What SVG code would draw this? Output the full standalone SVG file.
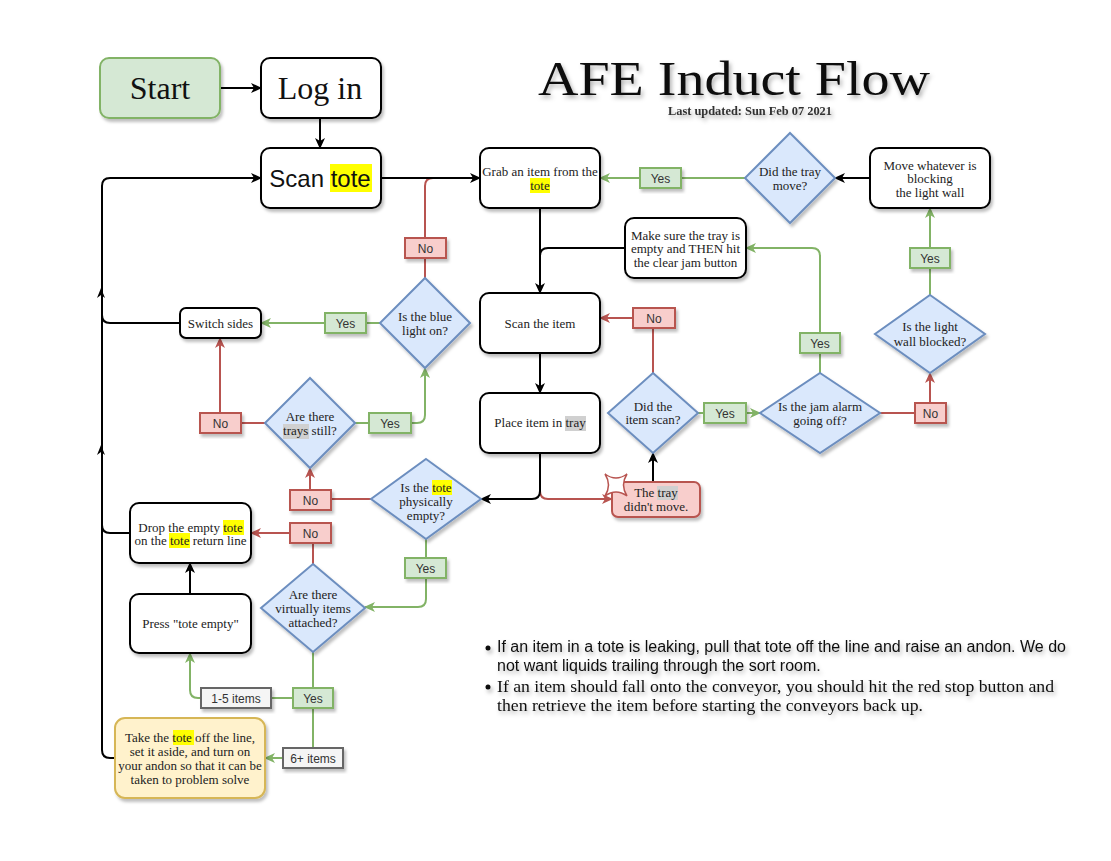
<svg xmlns="http://www.w3.org/2000/svg" width="1111" height="861" viewBox="0 0 1111 861">
<defs>
<style>
.box{fill:#fff;stroke:#000;stroke-width:2}
.dia{fill:#dae8fc;stroke:#6c8ebf;stroke-width:2}
.gl{fill:#d5e8d4;stroke:#82b366;stroke-width:2}
.rl{fill:#f8cecc;stroke:#b85450;stroke-width:2}
.gy{fill:#f5f5f5;stroke:#666;stroke-width:2}
.yl{fill:#fff2cc;stroke:#d6b656;stroke-width:2}
.n{font-family:"Liberation Serif",serif;font-size:13px;fill:#222;text-anchor:middle}
.l{font-family:"Liberation Sans",sans-serif;font-size:12px;fill:#333;text-anchor:middle}
.eb{fill:none;stroke:#000;stroke-width:2}
.eg{fill:none;stroke:#82b366;stroke-width:2}
.er{fill:none;stroke:#b85450;stroke-width:2}
.hy{fill:#ffff00}
.hg{fill:#d0d0d0}
</style>
<filter id="sh" x="-20%" y="-20%" width="150%" height="150%"><feDropShadow dx="2" dy="3" stdDeviation="1.5" flood-color="#000" flood-opacity="0.25"/></filter>
<filter id="ts" x="-10%" y="-30%" width="130%" height="180%"><feDropShadow dx="2" dy="3" stdDeviation="2" flood-color="#000" flood-opacity="0.3"/></filter>
<marker id="ab" markerWidth="11" markerHeight="10" refX="10" refY="5" orient="auto" markerUnits="userSpaceOnUse"><path d="M0,0 L11,5 L0,10 L3,5 Z" fill="#000"/></marker>
<marker id="ag" markerWidth="11" markerHeight="10" refX="10" refY="5" orient="auto" markerUnits="userSpaceOnUse"><path d="M0,0 L11,5 L0,10 L3,5 Z" fill="#82b366"/></marker>
<marker id="ar" markerWidth="11" markerHeight="10" refX="10" refY="5" orient="auto" markerUnits="userSpaceOnUse"><path d="M0,0 L11,5 L0,10 L3,5 Z" fill="#b85450"/></marker>
</defs>
<rect width="1111" height="861" fill="#fff"/>

<g id="title" filter="url(#ts)">
<text x="734" y="95" font-family="Liberation Serif,serif" font-size="48" text-anchor="middle" textLength="392" lengthAdjust="spacingAndGlyphs" fill="#111">AFE Induct Flow</text>
<text x="750" y="115" font-family="Liberation Serif,serif" font-size="11.5" font-weight="bold" text-anchor="middle" textLength="164" lengthAdjust="spacingAndGlyphs" fill="#333">Last updated: Sun Feb 07 2021</text>
</g>

<g id="connectors">
<path class="eb" d="M220,88 L261,88" marker-end="url(#ab)"/>
<path class="eb" d="M320,118 L320,148" marker-end="url(#ab)"/>
<path class="er" d="M425,279 L425,186 Q425,178 433,178"/>
<path class="eb" d="M381,178 L480,178" marker-end="url(#ab)"/>
<path class="eb" d="M540,208 L540,293" marker-end="url(#ab)"/>
<path class="eb" d="M625,248 L548,248 Q540,248 540,256"/>
<path class="eb" d="M540,353 L540,393" marker-end="url(#ab)"/>
<path class="er" d="M540,491 Q540,499 548,499 L612,499" marker-end="url(#ar)"/>
<path class="eb" d="M540,453 L540,491 Q540,499 532,499 L481,499" marker-end="url(#ab)"/>
<path class="eb" d="M870,178 L835,178" marker-end="url(#ab)"/>
<path class="eb" d="M653,482 L653,453" marker-end="url(#ab)"/>
<path class="eb" d="M190,594 L190,563" marker-end="url(#ab)"/>
<path class="eb" d="M115,758 L110,758 Q102,758 102,750 L102,186 Q102,178 110,178 L261,178" marker-end="url(#ab)"/>
<path class="eb" d="M180,323 L110,323 Q102,323 102,315"/>
<path class="eb" d="M130,533 L110,533 Q102,533 102,525"/>
<path d="M97,298 L101,288 L105,298 L101,295 Z" fill="#000"/>
<path d="M97,455 L101,445 L105,455 L101,452 Z" fill="#000"/>

<path class="eg" d="M745,178 L600,178" marker-end="url(#ag)"/>
<path class="eg" d="M698,413 L760,413" marker-end="url(#ag)"/>
<path class="eg" d="M820,373 L820,256 Q820,248 812,248 L746,248" marker-end="url(#ag)"/>
<path class="eg" d="M930,295 L930,208" marker-end="url(#ag)"/>
<path class="eg" d="M380,323 L261,323" marker-end="url(#ag)"/>
<path class="eg" d="M355,423 L417,423 Q425,423 425,415 L425,368" marker-end="url(#ag)"/>
<path class="eg" d="M426,539 L426,599 Q426,607 418,607 L365,607" marker-end="url(#ag)"/>
<path class="eg" d="M313,652 L313,748"/>
<path class="eg" d="M283,758 L265,758" marker-end="url(#ag)"/>
<path class="eg" d="M293,698 L271,698"/>
<path class="eg" d="M201,698 L198,698 Q190,698 190,690 L190,653" marker-end="url(#ag)"/>

<path class="er" d="M266,423 L220,423 L220,338" marker-end="url(#ar)"/>
<path class="er" d="M653,373 L653,318 L600,318" marker-end="url(#ar)"/>
<path class="er" d="M880,413 L930,413 L930,373" marker-end="url(#ar)"/>
<path class="er" d="M371,499 L310,499 L310,468" marker-end="url(#ar)"/>
<path class="er" d="M313,564 L313,533 L251,533" marker-end="url(#ar)"/>

<g id="lbl-yes-traymove"><rect class="gl" x="640" y="168" width="41" height="20" filter="url(#sh)"/><text class="l" x="660.5" y="182.5">Yes</text></g>
<g id="lbl-no-blue"><rect class="rl" x="405" y="238" width="41" height="20" filter="url(#sh)"/><text class="l" x="425.5" y="252.5">No</text></g>
<g id="lbl-yes-blue"><rect class="gl" x="325" y="313" width="41" height="20" filter="url(#sh)"/><text class="l" x="345.5" y="327.5">Yes</text></g>
<g id="lbl-yes-trays"><rect class="gl" x="369" y="413" width="42" height="20" filter="url(#sh)"/><text class="l" x="390" y="427.5">Yes</text></g>
<g id="lbl-no-trays"><rect class="rl" x="200" y="413" width="41" height="20" filter="url(#sh)"/><text class="l" x="220.5" y="427.5">No</text></g>
<g id="lbl-no-scan"><rect class="rl" x="633" y="308" width="42" height="20" filter="url(#sh)"/><text class="l" x="654" y="322.5">No</text></g>
<g id="lbl-yes-scan"><rect class="gl" x="704" y="403" width="42" height="20" filter="url(#sh)"/><text class="l" x="725" y="417.5">Yes</text></g>
<g id="lbl-yes-jam"><rect class="gl" x="800" y="333" width="40" height="20" filter="url(#sh)"/><text class="l" x="820" y="347.5">Yes</text></g>
<g id="lbl-no-jam"><rect class="rl" x="915" y="403" width="31" height="20" filter="url(#sh)"/><text class="l" x="930.5" y="417.5">No</text></g>
<g id="lbl-yes-wall"><rect class="gl" x="910" y="248" width="40" height="20" filter="url(#sh)"/><text class="l" x="930" y="262.5">Yes</text></g>
<g id="lbl-no-empty"><rect class="rl" x="290" y="490" width="41" height="20" filter="url(#sh)"/><text class="l" x="310.5" y="504.5">No</text></g>
<g id="lbl-no-virtual"><rect class="rl" x="290" y="523" width="41" height="20" filter="url(#sh)"/><text class="l" x="310.5" y="537.5">No</text></g>
<g id="lbl-yes-empty"><rect class="gl" x="405" y="558" width="41" height="20" filter="url(#sh)"/><text class="l" x="425.5" y="572.5">Yes</text></g>
<g id="lbl-yes-virtual"><rect class="gl" x="293" y="688" width="40" height="20" filter="url(#sh)"/><text class="l" x="313" y="702.5">Yes</text></g>
<g id="lbl-1-5"><rect class="gy" x="201" y="688" width="70" height="20" filter="url(#sh)"/><text class="l" x="236" y="702.5">1-5 items</text></g>
<g id="lbl-6plus"><rect class="gy" x="283" y="748" width="60" height="20" filter="url(#sh)"/><text class="l" x="313" y="762.5">6+ items</text></g>
</g>

<g id="start"><rect class="gl" x="100" y="58" width="120" height="60" rx="9" filter="url(#sh)"/><text x="160" y="99" font-family="Liberation Serif,serif" font-size="32" text-anchor="middle" fill="#111">Start</text></g>
<g id="login"><rect class="box" x="261" y="58" width="120" height="60" rx="9" filter="url(#sh)"/><text x="320" y="99" font-family="Liberation Serif,serif" font-size="32" text-anchor="middle" fill="#111">Log in</text></g>
<g id="scan-tote"><rect class="box" x="261" y="148" width="120" height="60" rx="9" filter="url(#sh)"/><rect class="hy" x="330" y="164" width="42" height="28"/><text x="320" y="187" font-family="Liberation Sans,sans-serif" font-size="24" text-anchor="middle" fill="#111">Scan tote</text></g>
<g id="grab"><rect class="box" x="480" y="148" width="120" height="60" rx="9" filter="url(#sh)"/><rect class="hy" x="530" y="178" width="20" height="15"/><text class="n" x="540" y="176">Grab an item from the</text><text class="n" x="540" y="189.5">tote</text></g>
<g id="tray-move"><path class="dia" d="M790,133 L835,178 L790,223 L745,178 Z" filter="url(#sh)"/><text class="n" x="790" y="175.5">Did the tray</text><text class="n" x="790" y="189.5">move?</text></g>
<g id="move-whatever"><rect class="box" x="870" y="148" width="120" height="60" rx="9" filter="url(#sh)"/><text class="n" x="930" y="169.5">Move whatever is</text><text class="n" x="930" y="183">blocking</text><text class="n" x="930" y="196.5">the light wall</text></g>
<g id="make-sure"><rect class="box" x="625" y="218" width="121" height="60" rx="9" filter="url(#sh)"/><text class="n" x="685.5" y="239.5">Make sure the tray is</text><text class="n" x="685.5" y="253">empty and THEN hit</text><text class="n" x="685.5" y="266.5">the clear jam button</text></g>
<g id="scan-item"><rect class="box" x="480" y="293" width="120" height="60" rx="9" filter="url(#sh)"/><text class="n" x="540" y="327.5">Scan the item</text></g>
<g id="place-item"><rect class="box" x="480" y="393" width="120" height="60" rx="9" filter="url(#sh)"/><rect class="hg" x="565" y="416" width="21" height="15"/><text class="n" x="540" y="427">Place item in tray</text></g>
<g id="item-scan"><path class="dia" d="M653,373 L698,413 L653,453 L608,413 Z" filter="url(#sh)"/><text class="n" x="653" y="410.5">Did the</text><text class="n" x="653" y="424">item scan?</text></g>
<g id="jam-alarm"><path class="dia" d="M820,373 L880,413 L820,453 L760,413 Z" filter="url(#sh)"/><text class="n" x="820" y="410.5">Is the jam alarm</text><text class="n" x="820" y="424.5">going off?</text></g>
<g id="light-wall"><path class="dia" d="M930,295 L985,334 L930,373 L875,334 Z" filter="url(#sh)"/><text class="n" x="930" y="331">Is the light</text><text class="n" x="930" y="345.5">wall blocked?</text></g>
<g id="blue-light"><path class="dia" d="M425,278 L470,323 L425,368 L380,323 Z" filter="url(#sh)"/><text class="n" x="425" y="321">Is the blue</text><text class="n" x="425" y="334.5">light on?</text></g>
<g id="switch-sides"><rect class="box" x="180" y="308" width="81" height="30" rx="6" filter="url(#sh)"/><text class="n" x="220.5" y="327.5">Switch sides</text></g>
<g id="trays-still"><path class="dia" d="M310,378 L355,423 L310,468 L265,423 Z" filter="url(#sh)"/><rect class="hg" x="283" y="424" width="26" height="15"/><text class="n" x="310" y="420.5">Are there</text><text class="n" x="310" y="434.5">trays still?</text></g>
<g id="tote-empty"><path class="dia" d="M426,459 L481,499 L426,539 L371,499 Z" filter="url(#sh)"/><rect class="hy" x="432" y="480" width="20" height="15"/><text class="n" x="426" y="491.5">Is the tote</text><text class="n" x="426" y="505.5">physically</text><text class="n" x="426" y="519.5">empty?</text></g>
<g id="tray-didnt-move"><rect class="rl" x="612" y="482" width="88" height="35" rx="6" filter="url(#sh)"/><rect class="hg" x="657" y="486" width="21" height="14"/><text class="n" x="656" y="496.5">The tray</text><text class="n" x="656" y="510.5">didn't move.</text><path d="M605,474 Q616,482 627,474 Q620,485 627,496 Q616,488 605,496 Q612,485 605,474 Z" fill="#fff" stroke="#b85450" stroke-width="1.5"/></g>
<g id="drop-tote"><rect class="box" x="130" y="503" width="121" height="60" rx="9" filter="url(#sh)"/><rect class="hy" x="223" y="520" width="21" height="15"/><rect class="hy" x="169" y="533" width="21" height="15"/><text class="n" x="190.5" y="531.5">Drop the empty tote</text><text class="n" x="190.5" y="545">on the tote return line</text></g>
<g id="virtual-items"><path class="dia" d="M313,564 L365,608 L313,652 L261,608 Z" filter="url(#sh)"/><text class="n" x="313" y="598.5">Are there</text><text class="n" x="313" y="612.5">virtually items</text><text class="n" x="313" y="626.5">attached?</text></g>
<g id="press-empty"><rect class="box" x="130" y="594" width="121" height="59" rx="9" filter="url(#sh)"/><text class="n" x="190.5" y="627.5">Press "tote empty"</text></g>
<g id="take-tote"><rect class="yl" x="115" y="718" width="150" height="80" rx="10" filter="url(#sh)"/><rect class="hy" x="173" y="730" width="21" height="15"/><text class="n" x="190" y="741.5">Take the tote off the line,</text><text class="n" x="190" y="755.5">set it aside, and turn on</text><text class="n" x="190" y="769.5">your andon so that it can be</text><text class="n" x="190" y="783.5">taken to problem solve</text></g>

<g id="notes" filter="url(#ts)">
<circle cx="488" cy="648" r="2.5" fill="#111"/>
<circle cx="488" cy="687" r="2.5" fill="#111"/>
<text x="497" y="652" font-family="Liberation Sans,sans-serif" font-size="16" fill="#111" textLength="569" lengthAdjust="spacingAndGlyphs">If an item in a tote is leaking, pull that tote off the line and raise an andon. We do</text>
<text x="497" y="671" font-family="Liberation Sans,sans-serif" font-size="16" fill="#111">not want liquids trailing through the sort room.</text>
<text x="497" y="692" font-family="Liberation Serif,serif" font-size="17" fill="#111" textLength="557" lengthAdjust="spacingAndGlyphs">If an item should fall onto the conveyor, you should hit the red stop button and</text>
<text x="497" y="711" font-family="Liberation Serif,serif" font-size="17" fill="#111" textLength="426" lengthAdjust="spacingAndGlyphs">then retrieve the item before starting the conveyors back up.</text>
</g>
</svg>
